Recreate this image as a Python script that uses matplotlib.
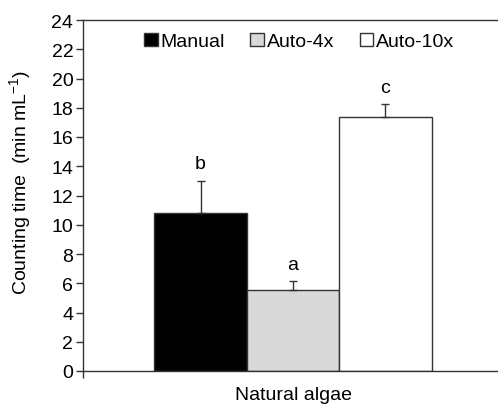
import numpy as np
from matplotlib import pyplot as plt

plt.rcParams['font.family'] = ['Liberation Sans', 'DejaVu Sans']
plt.rcParams['mathtext.default'] = 'regular'

# data
methods = ["Manual", "Auto-4x", "Auto-10x"]
means = [10.78, 5.54, 17.35]
errors = [2.23, 0.59, 0.88]
letters = ["b", "a", "c"]
fills = ["#000000", "#d9d9d9", "#ffffff"]
group = "Natural algae"

fig = plt.figure(figsize=(4.98, 4.06), dpi=100)
ax = fig.add_axes([83 / 498, 34 / 406, 420 / 498, 351 / 406])

width = 0.22
offsets = (np.arange(len(methods)) - 1) * width
for i in range(len(methods)):
    ax.bar(offsets[i], means[i], width, color=fills[i], edgecolor="#333333",
           linewidth=1.0, label=methods[i], zorder=2)
    ax.errorbar(offsets[i], means[i], yerr=[[0], [errors[i]]], fmt="none",
                ecolor="#333333", elinewidth=1.0, capsize=3, capthick=1.0, zorder=3)
    ax.text(offsets[i], means[i] + errors[i] + 0.6, letters[i], ha="center",
            va="bottom", fontsize=14)

ax.set_xlim(-0.5, 0.5)
ax.set_ylim(0, 24)
ax.set_yticks(np.arange(0, 25, 2))
ax.set_xticks([-0.5])
ax.set_xticklabels([""])
ax.tick_params(axis="both", direction="out", length=5, width=1, labelsize=14,
               color="#333333", pad=2)
ax.spines["right"].set_visible(False)
for s in ["left", "bottom", "top"]:
    ax.spines[s].set_color("#333333")
    ax.spines[s].set_linewidth(1)

ax.text(0, -1.05, group, ha="center", va="top", fontsize=14)
ax.set_ylabel("Counting time  (min mL$^{-1}$)", fontsize=14)
ax.yaxis.set_label_coords(-0.118, 0.54)

leg = ax.legend(loc="upper center", bbox_to_anchor=(0.515, 1.0), ncol=3, frameon=False,
                fontsize=14, handlelength=0.7, handleheight=0.7, handletextpad=0.15,
                columnspacing=1.3, borderaxespad=0.25)

fig.savefig("out.png", dpi=100)
